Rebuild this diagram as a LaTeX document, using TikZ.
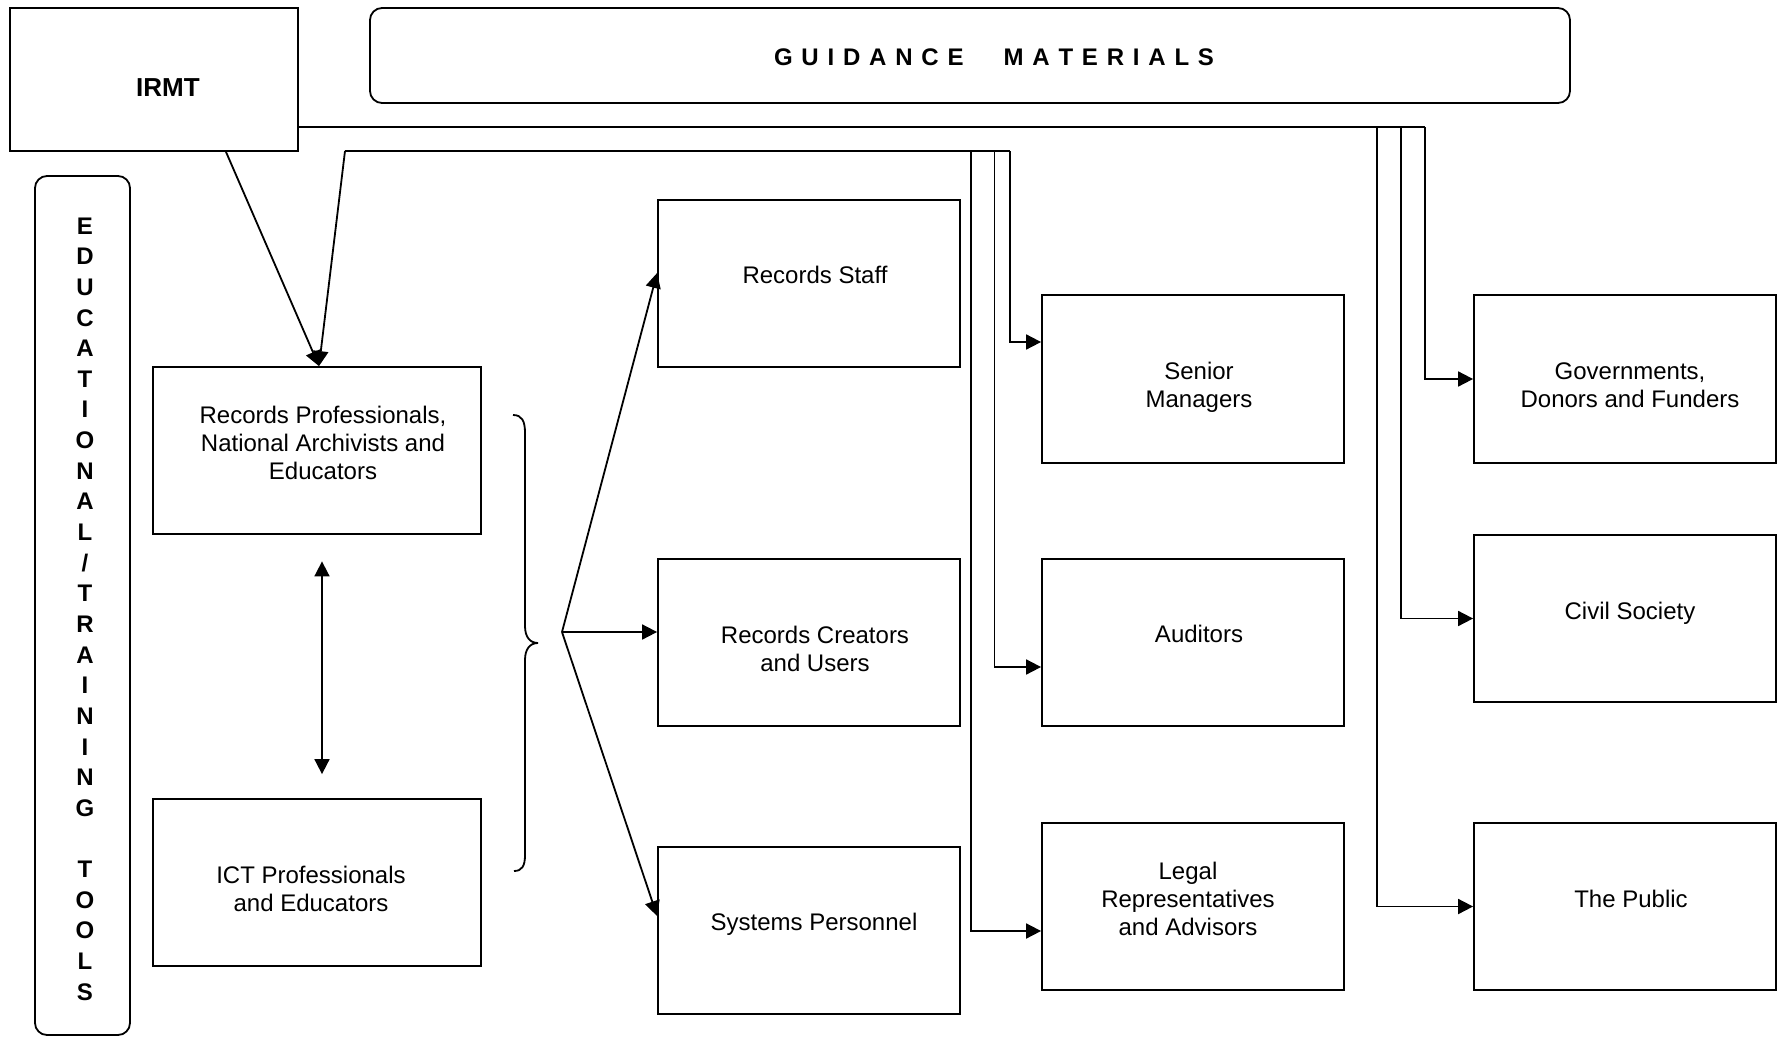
\documentclass[tikz,border=0pt]{standalone}
\usepackage{fontspec}
\setmainfont{Liberation Sans}
\usepackage{tikz}
\usetikzlibrary{calc,arrows.meta}
\definecolor{ink}{HTML}{000000}
\tikzset{
  box/.style={draw=ink, line width=0.9pt, minimum width=151pt, minimum height=83.5pt, inner sep=0pt},
  roundbox/.style={draw=ink, line width=0.9pt, rounded corners=6pt, inner sep=0pt},
  link/.style={draw=ink, line width=0.9pt},
  arr/.style={link, -{Triangle[length=7.5pt,width=7.5pt]}},
  dbl/.style={link, {Triangle[length=7.5pt,width=7.5pt]}-{Triangle[length=7.5pt,width=7.5pt]}},
  lab/.style={font=\fontsize{12}{13.9}\selectfont, align=center, inner sep=0pt},
  every node/.style={text=ink}
}
\newcommand\gsp{\hspace{4.4pt}}

\begin{document}
\begin{tikzpicture}[x=0.5pt,y=-0.5pt]
  \useasboundingbox (0,0) rectangle (1782,1038);

  % boxes
  \node[box, minimum width=144pt, minimum height=71.5pt] (irmt) at (154,79.5) {};
  \node[roundbox, minimum width=600pt, minimum height=47.5pt] (guide) at (970,55.5) {};
  \node[roundbox, minimum width=47.5pt, minimum height=429.5pt] (edu) at (82.5,605.5) {};
  \node[box, minimum width=164pt] (prof) at (317,450.5) {};
  \node[box, minimum width=164pt] (ict) at (317,882.5) {};
  \node[box] (staff) at (809,283.5) {};
  \node[box] (creat) at (809,642.5) {};
  \node[box] (sys) at (809,930.5) {};
  \node[box, minimum height=84pt] (senior) at (1193,379) {};
  \node[box] (audit) at (1193,642.5) {};
  \node[box] (legal) at (1193,906.5) {};
  \node[box, minimum height=84pt] (gov) at (1625,379) {};
  \node[box] (civil) at (1625,618.5) {};
  \node[box] (public) at (1625,906.5) {};

  % texts
  \node[lab, font=\fontsize{13}{15}\selectfont\bfseries] (irmt-t) at (168,88) {IRMT};
  \node[lab, font=\fontsize{12}{14}\selectfont\bfseries] (guide-t) at (994,57)
    {G\gsp U\gsp I\gsp D\gsp A\gsp N\gsp C\gsp E\hspace{20pt}M\gsp A\gsp T\gsp E\gsp R\gsp I\gsp A\gsp L\gsp S};
  \node[lab, font=\fontsize{12}{15.32}\selectfont\bfseries] (edu-t) at (85,609)
    {E\\D\\U\\C\\A\\T\\I\\O\\N\\A\\L\\/\\T\\R\\A\\I\\N\\I\\N\\G\\[15.32pt]T\\O\\O\\L\\S};
  \node[lab] (prof-t) at (323,443) {Records Professionals,\\National Archivists and\\Educators};
  \node[lab] (ict-t) at (311,889) {ICT Professionals\\and Educators};
  \node[lab] (staff-t) at (815,275) {Records Staff};
  \node[lab] (creat-t) at (815,649) {Records Creators\\and Users};
  \node[lab] (sys-t) at (814,924) {Systems Personnel};
  \node[lab] (senior-t) at (1199,387) {Senior\\Managers};
  \node[lab] (audit-t) at (1199,634) {Auditors};
  \node[lab] (legal-t) at (1188,899) {Legal\\Representatives\\and Advisors};
  \node[lab] (gov-t) at (1630,385) {Governments,\\Donors and Funders};
  \node[lab] (civil-t) at (1630,613) {Civil Society};
  \node[lab] (public-t) at (1631,899) {The Public};

  % IRMT and the upper bus into the records professionals
  \coordinate (tip) at ($(prof.north)+(2,0)$);
  \coordinate (u0) at (345,151);
  \coordinate (m1) at (970.6,151);
  \coordinate (m2) at (994.5,151);
  \coordinate (m3) at (1010,151);
  \draw[arr] ($(irmt.south)+(72,0)$) -- (tip);
  \draw[arr] (u0) -- (tip);
  \draw[link] (u0) -- (m3);
  \draw[arr] (m3) |- ($(senior.west)+(0,-37)$);
  \draw[arr] (m2) |- ($(audit.west)+(0,24.5)$);
  \draw[arr] (m1) |- ($(legal.west)+(0,24.5)$);

  % IRMT bus to the right column
  \coordinate (r1) at (1377,127);
  \coordinate (r2) at (1401,127);
  \coordinate (r3) at (1425,127);
  \draw[link] (irmt.east |- r3) -- (r3);
  \draw[arr] (r3) |- (gov.west);
  \draw[arr] (r2) |- (civil.west);
  \draw[arr] (r1) |- (public.west);

  \draw[dbl] ($(prof.south)+(5,26.5)$) -- ($(ict.north)+(5,-24)$);

  % brace and fan
  \draw[link] (513,415) .. controls (522,415) and (525,421) .. (525,433)
    -- (525,626) .. controls (525,637) and (530,643) .. (538,643)
    .. controls (530,643) and (525,649) .. (525,660)
    -- (525,855) .. controls (525,866) and (522,871) .. (514,871);
  \coordinate (fan) at (562,632);
  \draw[arr] (fan) -- ($(staff.west)+(0,-10.5)$);
  \draw[arr] (fan) -- ($(creat.west)+(0,-10.5)$);
  \draw[arr] (fan) -- ($(sys.west)+(0,-14.5)$);
\end{tikzpicture}
\end{document}
